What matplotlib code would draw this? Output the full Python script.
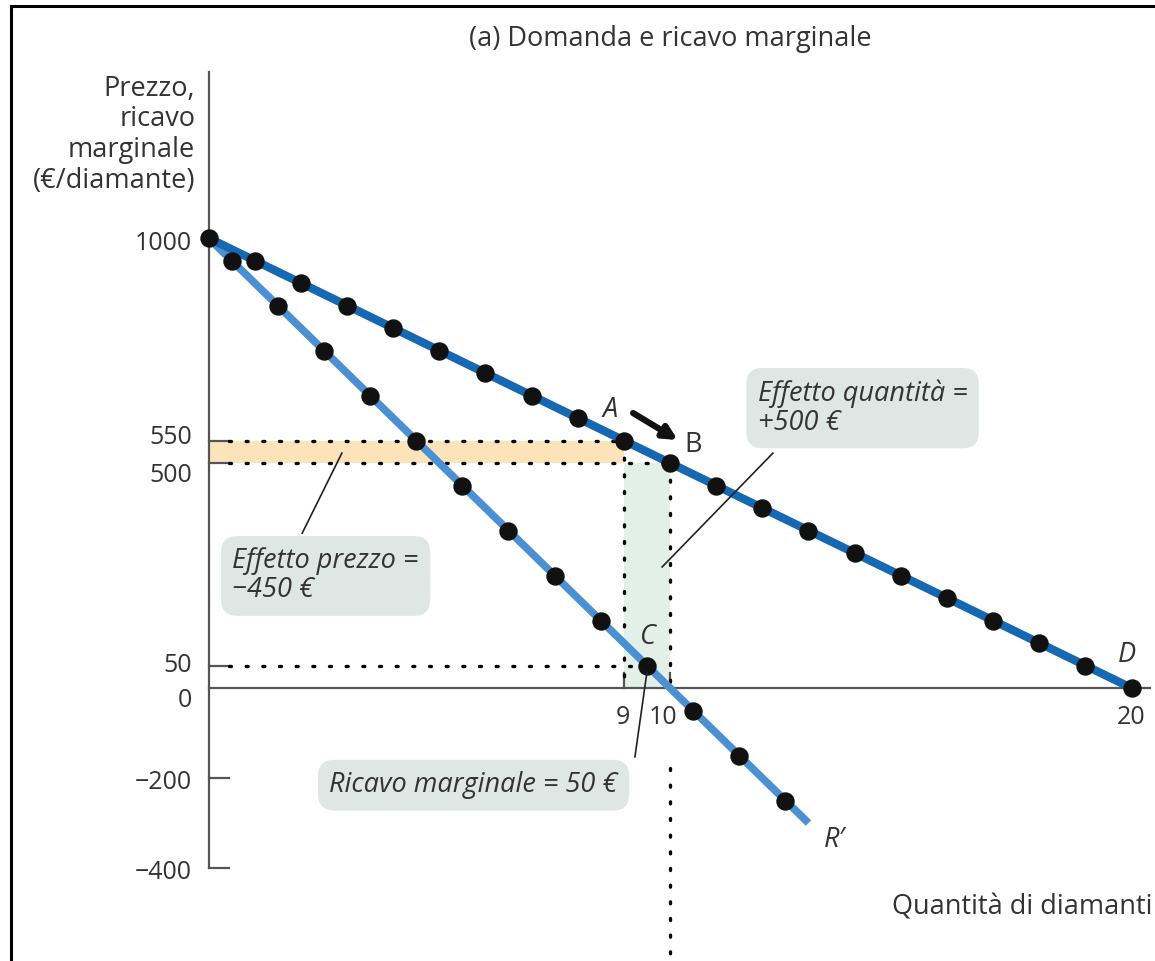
import matplotlib
matplotlib.use('Agg')
import matplotlib.pyplot as plt
from matplotlib.lines import Line2D

plt.rcParams['font.family'] = ['Open Sans', 'Noto Sans', 'DejaVu Sans']

# --- Data ---
q_demand = [0, 1, 2, 3, 4, 5, 6, 7, 8, 9, 10, 11, 12, 13, 14, 15, 16, 17, 18, 19, 20]
p_demand = [1000, 950, 900, 850, 800, 750, 700, 650, 600, 550, 500,
            450, 400, 350, 300, 250, 200, 150, 100, 50, 0]
q_mr = [0.5, 1.5, 2.5, 3.5, 4.5, 5.5, 6.5, 7.5, 8.5, 9.5, 10.5, 11.5, 12.5]
mr = [950, 850, 750, 650, 550, 450, 350, 250, 150, 50, -50, -150, -250]
mr_line_q = [0, 13]
mr_line_v = [1000, -300]
y_ticks = [1000, 550, 500, 50, 0, -200, -400]
y_tick_labels = ['1000', '550', '500', '50', '0', '\u2212200', '\u2212400']
x_ticks = [9, 10, 20]
x_tick_labels = ['9', '10', '20']
q_a, p_a = 9, 550
q_b, p_b = 10, 500
q_c, mr_c = 9.5, 50

TXT = '#333333'
DEM = '#1668b3'
MRC = '#4b90d2'

fig = plt.figure(figsize=(11.55, 9.61), dpi=100)
ax = fig.add_axes([0, 0, 1, 1])
ax.set_xlim(-208.5 / 46.15, (1155 - 208.5) / 46.15)
ax.set_ylim((688 - 961) / 0.45, 688 / 0.45)
ax.axis('off')

# border (left + top)
fig.add_artist(Line2D([0.0095, 0.0095], [0, 0.9935], color='black', lw=2.2, transform=fig.transFigure))
fig.add_artist(Line2D([0.0095, 1], [0.9935, 0.9935], color='black', lw=2.2, transform=fig.transFigure))

# shaded areas
ax.fill_between([0, q_a], p_b, p_a, color='#fde3b9', lw=0, zorder=1)
ax.fill_between([q_a, q_b], 0, p_b, color='#e3efe9', lw=0, zorder=1)

# axes
ax.plot([0, 0], [-400, 1369], color='#555555', lw=1.6, zorder=2)
ax.plot([0, 20.4], [0, 0], color='#555555', lw=1.6, zorder=2)
for v in [550, 500, 50, -200, -400]:
    ax.plot([0, 0.45], [v, v], color='#555555', lw=1.6, zorder=2)
for q in [q_a, q_b]:
    ax.plot([q, q], [0, 33], color='#555555', lw=1.6, zorder=2)

# dotted guides
dot = dict(color='black', lw=2.4, linestyle=(0, (0.6, 4.4)), dash_capstyle='round', zorder=3)
ax.plot([0.45, q_a], [p_a, p_a], **dot)
ax.plot([0.45, q_b], [p_b, p_b], **dot)
ax.plot([0.45, q_c], [mr_c, mr_c], **dot)
ax.plot([q_a, q_a], [p_a, 0], **dot)
ax.plot([q_b, q_b], [p_b, 0], **dot)
ax.plot([q_b, q_b], [-178, -620], clip_on=False, **dot)

# curves
ax.plot(mr_line_q, mr_line_v, color=MRC, lw=5.5, solid_capstyle='butt', zorder=4)
ax.plot(q_demand, p_demand, color=DEM, lw=6, solid_capstyle='butt', zorder=5)
ax.scatter(q_mr, mr, s=150, color='#111111', zorder=6)
ax.scatter(q_demand, p_demand, s=150, color='#111111', zorder=6)

# tick labels
fs = 19.5
fsn = 18
y_lab_off = [-12, 6, -28, 0, -28, -9, -9]
for v, off, lab in zip(y_ticks, y_lab_off, y_tick_labels):
    ax.text(-0.36, v + off, lab, ha='right', va='center', fontsize=fsn, color=TXT)
x_lab_pos = [8.98, 9.85, 20]
for xq, lab in zip(x_lab_pos, x_tick_labels):
    ax.text(xq, -66, lab, ha='center', va='center', fontsize=fsn, color=TXT)

# axis titles
ax.text(20.45, -487, 'Quantità di diamanti', ha='right', va='center', fontsize=fs, color=TXT)
fig.text(0.169, 0.922, 'Prezzo,\nricavo\nmarginale\n(€/diamante)', ha='right', va='top',
         fontsize=fs, color=TXT, linespacing=1.12)
fig.text(0.58, 0.959, '(a) Domanda e ricavo marginale', ha='center', va='center',
         fontsize=fs, color=TXT)

# point labels
ax.text(8.7, 618, 'A', ha='center', va='center', fontsize=fs, style='italic', color=TXT)
ax.text(10.5, 540, 'B', ha='center', va='center', fontsize=fs, color=TXT)
ax.text(9.5, 113, 'C', ha='center', va='center', fontsize=fs, style='italic', color=TXT)
ax.text(19.9, 73, 'D', ha='center', va='center', fontsize=fs, style='italic', color=TXT)
ax.text(13.57, -338, 'R\u2032', ha='center', va='center', fontsize=fs, style='italic', color=TXT)
ax.annotate('', xy=(10.17, 551), xytext=(9.2, 611),
            arrowprops=dict(arrowstyle='-|>', color='#111111', lw=4.5, mutation_scale=20,
                            shrinkA=0, shrinkB=0), zorder=7)

# callout boxes
box = dict(boxstyle='round,pad=0.42,rounding_size=0.6', fc='#dfe7e4', ec='none')
ax.plot([2.03, 2.89], [344, 522], color='#222222', lw=1.2, zorder=7)
ax.text(0.52, 249, 'Effetto prezzo =\n\u2212450 €', ha='left', va='center', fontsize=fs,
        style='italic', color=TXT, bbox=box, linespacing=1.05, zorder=8)
ax.plot([12.23, 9.83], [522, 269], color='#222222', lw=1.2, zorder=7)
ax.text(11.9, 622, 'Effetto quantità =\n+500 €', ha='left', va='center', fontsize=fs,
        style='italic', color=TXT, bbox=box, linespacing=1.05, zorder=8)
ax.plot([9.24, q_c], [-153, mr_c - 15], color='#222222', lw=1.2, zorder=7)
ax.text(2.62, -216, 'Ricavo marginale = 50 €', ha='left', va='center', fontsize=fs,
        style='italic', color=TXT, bbox=box, zorder=8)

fig.savefig('out.png', dpi=100)
